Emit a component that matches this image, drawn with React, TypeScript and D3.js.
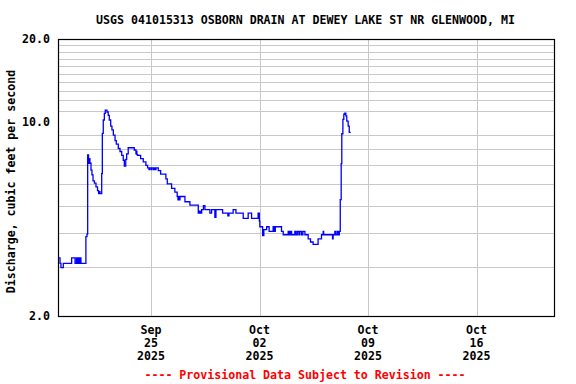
import React from "react";
import * as d3 from "d3";

const title = "USGS 041015313 OSBORN DRAIN AT DEWEY LAKE ST NR GLENWOOD, MI";
const yLabel = "Discharge, cubic feet per second";
const footer = "---- Provisional Data Subject to Revision ----";

const startDate = Date.UTC(2025, 8, 19);
const endDate = Date.UTC(2025, 9, 21);

const xTickDates = [Date.UTC(2025, 8, 25), Date.UTC(2025, 9, 2), Date.UTC(2025, 9, 9), Date.UTC(2025, 9, 16)];
const xTickLabels = [["Sep", "25", "2025"], ["Oct", "02", "2025"], ["Oct", "09", "2025"], ["Oct", "16", "2025"]];

const yTickValues = [20, 10, 2];
const yTickLabels = ["20.0", "10.0", "2.0"];
const yGridValues = [3, 4, 5, 6, 7, 8, 9, 11, 12, 13, 14, 15, 16, 17, 18, 19];

// days since Sep 19 2025 00:00 UTC
const dayOffsets = [
  0.0, 0.13, 0.19, 0.34, 0.88, 1.1, 1.19, 1.24, 1.29, 1.35, 1.42, 1.48, 1.8, 1.87, 1.915, 1.97, 2.0, 2.03, 2.06,
  2.13, 2.19, 2.26, 2.35, 2.45, 2.55, 2.62, 2.68, 2.71, 2.82, 2.86, 2.92, 2.99, 3.05, 3.16, 3.24, 3.31, 3.4, 3.48,
  3.57, 3.68, 3.76, 3.89, 4.0, 4.11, 4.21, 4.28, 4.37, 4.43, 4.53, 4.92, 5.03, 5.06, 5.09, 5.14, 5.33, 5.5, 5.67,
  5.78, 5.87, 5.9, 6.0, 6.03, 6.13, 6.19, 6.25, 6.32, 6.47, 6.62, 6.96, 7.05, 7.33, 7.54, 7.69, 7.74, 7.77, 7.83,
  7.87, 8.19, 8.51, 9.05, 9.12, 9.18, 9.27, 9.38, 9.48, 9.8, 9.91, 10.12, 10.19, 10.62, 10.96, 11.03, 11.3, 11.48,
  11.95, 12.27, 12.49, 12.91, 12.99, 13.02, 13.2, 13.28, 13.46, 13.62, 13.88, 13.95, 14.02, 14.42, 14.53, 14.85,
  14.93, 14.99, 15.07, 15.28, 15.35, 15.44, 15.54, 15.6, 15.71, 15.8, 15.93, 16.14, 16.29, 16.46, 16.78, 17.0,
  17.11, 17.14, 17.71, 17.75, 17.86, 17.92, 18.02, 18.09, 18.15, 18.21, 18.27, 18.31, 18.38, 18.44, 18.5, 18.57,
  18.63, 18.72, 18.79, 18.89,
];

const discharge = [
  3.24, 3.1, 2.99, 3.1, 3.24, 3.1, 3.24, 3.1, 3.24, 3.1, 3.24, 3.1, 3.87, 3.95, 7.63, 7.3, 7.12, 7.4, 7.12,
  6.73, 6.46, 6.15, 6.04, 5.85, 5.67, 5.53, 5.62, 5.53, 6.53, 9.13, 10.2, 10.78, 11.08, 10.9, 10.6, 10.2, 9.7, 9.4,
  9.0, 8.6, 8.35, 8.05, 7.85, 7.6, 7.3, 6.95, 7.35, 7.7, 8.1, 7.95, 7.7, 7.85, 7.65, 7.6, 7.4, 7.2, 7.0,
  6.85, 6.75, 6.85, 6.75, 6.85, 6.75, 6.85, 6.75, 6.85, 6.7, 6.5, 6.25, 6.0, 5.78, 5.6, 5.4, 5.25, 5.4, 5.25,
  5.4, 5.17, 5.03, 4.7, 4.78, 4.7, 4.84, 5.0, 4.84, 4.7, 4.84, 4.54, 4.84, 4.7, 4.6, 4.7, 4.84, 4.7,
  4.5, 4.7, 4.5, 4.7, 4.4, 4.2, 3.9, 4.1, 4.2, 4.04, 4.2, 4.04, 4.2, 4.04, 3.93, 4.04,
  3.93, 4.04, 3.93, 4.04, 3.93, 4.04, 3.93, 4.04, 3.93, 4.04, 3.93, 3.8, 3.7, 3.63, 3.8, 3.93,
  4.04, 3.93, 3.8, 3.93, 4.04, 3.93, 4.04, 3.93, 4.04, 5.26, 7.1, 9.1, 10.25, 10.7, 10.8, 10.55,
  10.1, 9.7, 9.2, 9.2,
];

const W = 576;
const H = 384;
const left = 58;
const right = 554;
const top = 39;
const bottom = 316;
const font = "'DejaVu Sans Mono', 'Liberation Mono', monospace";
const fs = 11.6;

export default function App() {
  const x = d3.scaleUtc().domain([new Date(startDate), new Date(endDate)]).range([left, right]);
  const y = d3.scaleLog().domain([2, 20]).range([bottom, top]);

  const points: [number, number][] = dayOffsets.map((d, i) => [startDate + d * 86400000, discharge[i]]);
  const line = d3
    .line<[number, number]>()
    .x((d) => x(new Date(d[0])))
    .y((d) => y(d[1]))
    .curve(d3.curveStepAfter);

  return (
    <svg
      width={W}
      height={H}
      viewBox={`0 0 ${W} ${H}`}
      style={{ position: "absolute", left: 0, top: 0, background: "#fff" }}
    >
      <rect x={0} y={0} width={W} height={H} fill="#fff" />
      <text x={305.5} y={24} textAnchor="middle" fontFamily={font} fontWeight="bold" fontSize={fs} fill="#000">
        {title}
      </text>
      {yGridValues.map((v) => (
        <line key={"yg" + v} x1={left} x2={right} y1={Math.round(y(v)) + 0.5} y2={Math.round(y(v)) + 0.5} stroke="#c8c8c8" strokeWidth={1} />
      ))}
      {xTickDates.map((d) => (
        <line key={"xg" + d} x1={Math.round(x(new Date(d))) + 0.5} x2={Math.round(x(new Date(d))) + 0.5} y1={top} y2={bottom} stroke="#c8c8c8" strokeWidth={1} />
      ))}
      <path d={line(points) || ""} fill="none" stroke="#0000ff" strokeWidth={1.3} />
      <rect x={left + 0.5} y={top + 0.5} width={right - left} height={bottom - top} fill="none" stroke="#000" strokeWidth={1.2} />
      {yTickValues.map((v, i) => (
        <text key={"yt" + v} x={50} y={y(v) + 4} textAnchor="end" fontFamily={font} fontWeight="bold" fontSize={fs} fill="#000">
          {yTickLabels[i]}
        </text>
      ))}
      <text
        transform={`translate(15, ${(top + bottom) / 2 + 4}) rotate(-90)`}
        textAnchor="middle"
        fontFamily={font}
        fontWeight="bold"
        fontSize={fs}
        fill="#000"
      >
        {yLabel}
      </text>
      {xTickDates.map((d, i) => (
        <g key={"xl" + d}>
          {xTickLabels[i].map((s, j) => (
            <text key={j} x={x(new Date(d))} y={334 + j * 13} textAnchor="middle" fontFamily={font} fontWeight="bold" fontSize={fs} fill="#000">
              {s}
            </text>
          ))}
        </g>
      ))}
      <text x={305} y={379} textAnchor="middle" fontFamily={font} fontWeight="bold" fontSize={fs} fill="#ff0000">
        {footer}
      </text>
    </svg>
  );
}
